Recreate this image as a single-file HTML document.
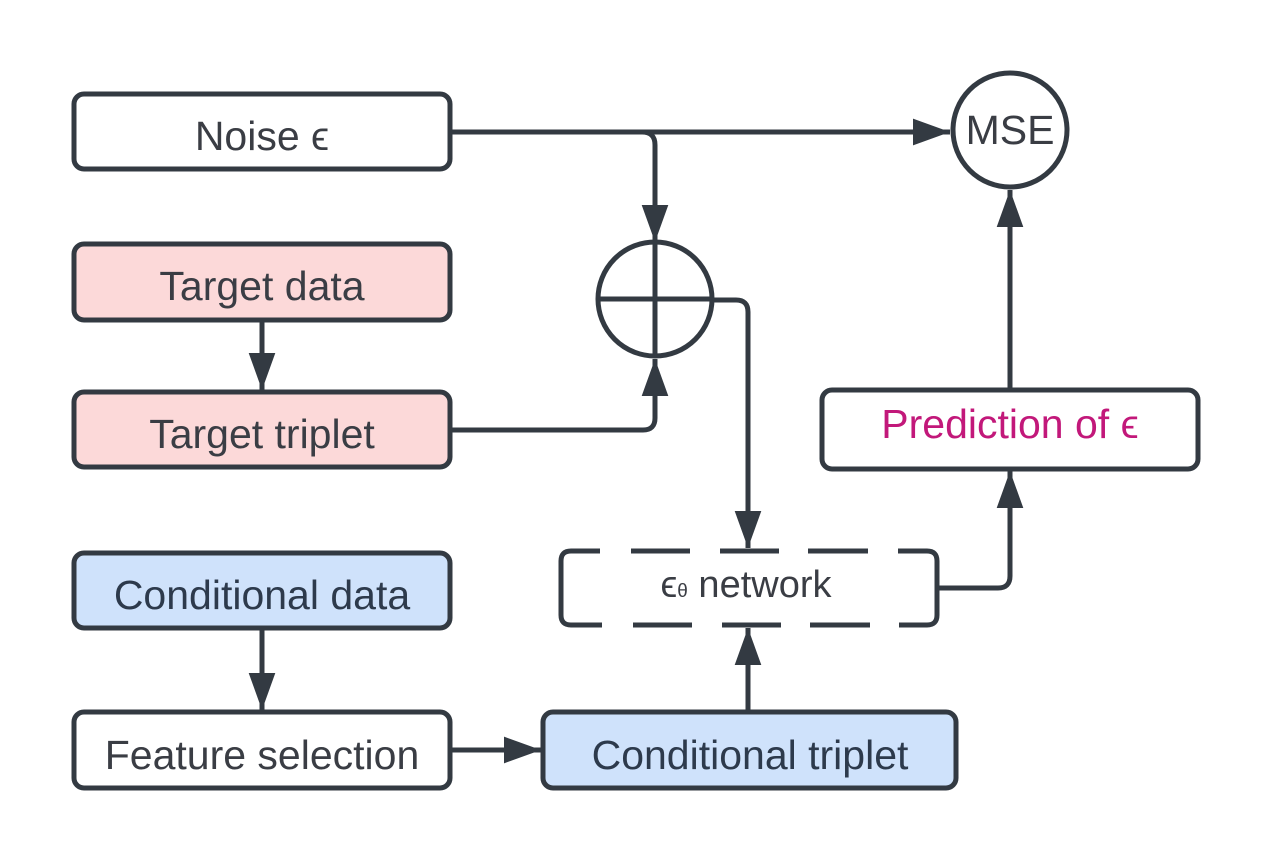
<!DOCTYPE html>
<html><head><meta charset="utf-8"><style>
html,body{margin:0;padding:0;background:#fff;}
svg{display:block;}
text{font-family:"Liberation Sans",Arial,sans-serif;font-size:41px;fill:#3a3d44;text-anchor:middle;}
</style></head><body>
<svg width="1275" height="863" viewBox="0 0 1275 863" xmlns="http://www.w3.org/2000/svg">
<defs>
<marker id="a" viewBox="0 0 10 10" refX="10" refY="5" markerWidth="7.4" markerHeight="7.4" orient="auto" markerUnits="strokeWidth">
<path d="M0,1.4 L10,5 L0,8.6 z" fill="#333a42"/>
</marker>
</defs>
<g fill="none" stroke="#333a42" stroke-width="5" stroke-linejoin="round">
<path d="M450,132 H950" marker-end="url(#a)"/>
<path d="M642,132 Q655,132 655,145 V242" marker-end="url(#a)"/>
<path d="M450,430 H643 Q655,430 655,418 V359" marker-end="url(#a)"/>
<path d="M713,300 H736 Q748,300 748,312 V548" marker-end="url(#a)"/>
<path d="M937,588 H998 Q1010,588 1010,576 V471" marker-end="url(#a)"/>
<path d="M1010,390 V190" marker-end="url(#a)"/>
<path d="M262,320 V390" marker-end="url(#a)"/>
<path d="M262,628 V710" marker-end="url(#a)"/>
<path d="M450,750 H541" marker-end="url(#a)"/>
<path d="M748,712 V628" marker-end="url(#a)"/>
</g>
<g stroke="#333a42" stroke-width="5">
<rect x="74" y="94" width="376" height="75" rx="10" fill="#fff"/>
<rect x="74" y="244" width="376" height="76" rx="10" fill="#fcd9d9"/>
<rect x="74" y="392" width="376" height="75" rx="10" fill="#fcd9d9"/>
<rect x="74" y="553" width="376" height="75" rx="10" fill="#cfe2fb"/>
<rect x="74" y="712" width="376" height="76" rx="10" fill="#fff"/>
<rect x="543" y="712" width="413" height="76" rx="10" fill="#cfe2fb"/>
<rect x="822" y="390" width="376" height="79" rx="10" fill="#fff"/>
<path fill="none" d="M600,551 H571 Q561,551 561,561 V615 Q561,625 571,625 H602
 M631,551 H690 M720,551 H779 M808,551 H868
 M633,625 H692 M722,625 H781 M810,625 H870
 M898,551 H927 Q937,551 937,561 V615 Q937,625 927,625 H899"/>
<circle cx="655" cy="299" r="57" fill="#fff"/>
<path d="M655,242 V356 M598,299 H712" fill="none"/>
<circle cx="1010" cy="130" r="57" fill="#fff"/>
</g>
<text x="262" y="150">Noise ϵ</text>
<text x="262" y="300">Target data</text>
<text x="262" y="448">Target triplet</text>
<text x="262" y="609" style="fill:#2d3a4c">Conditional data</text>
<text x="262" y="769">Feature selection</text>
<text x="750" y="769" style="fill:#2d3a4c">Conditional triplet</text>
<text x="1010" y="438" style="fill:#c2187a">Prediction of ϵ</text>
<text x="1010" y="144">MSE</text>
<text x="746" y="597" style="font-size:38px">ϵ<tspan style="font-size:19px">θ</tspan> network</text>
</svg>
</body></html>
